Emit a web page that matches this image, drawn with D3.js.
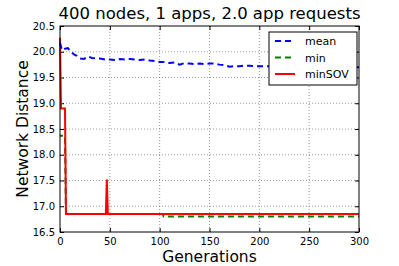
<!DOCTYPE html>
<html>
<head>
<meta charset="utf-8">
<script src="https://cdn.jsdelivr.net/npm/d3@7"></script>
<style>
  body { margin: 0; background: #fff; }
  text { font-family: "DejaVu Sans", sans-serif; }
</style>
</head>
<body>
<script>
// data
const meanGen = [0, 2, 5, 8, 11, 14, 17, 20, 24, 28, 32, 36, 40, 45, 50, 55, 60, 65, 70, 75, 80, 85, 90, 95, 100, 105, 110, 115, 120, 125, 130, 135, 140, 145, 150, 155, 160, 165, 170, 175, 180, 185, 190, 195, 200, 210, 220, 230, 240, 250, 260, 270, 280, 290, 300];
const meanVal = [20.17, 20.03, 20.06, 20.07, 20.0, 19.95, 19.92, 19.87, 19.86, 19.91, 19.88, 19.87, 19.87, 19.85, 19.85, 19.84, 19.86, 19.85, 19.86, 19.85, 19.84, 19.85, 19.83, 19.82, 19.80, 19.80, 19.78, 19.79, 19.75, 19.78, 19.77, 19.76, 19.77, 19.76, 19.77, 19.77, 19.75, 19.74, 19.71, 19.72, 19.72, 19.73, 19.73, 19.72, 19.72, 19.72, 19.71, 19.71, 19.71, 19.70, 19.70, 19.70, 19.71, 19.70, 19.70];
const minGen = [0, 5, 6, 103, 104, 300];
const minVal = [18.37, 18.37, 16.85, 16.85, 16.80, 16.80];
const sovGen = [0, 1, 5, 6, 46, 47, 48, 300];
const sovVal = [20.27, 18.9, 18.9, 16.85, 16.85, 17.52, 16.85, 16.85];
const xTicks = [0, 50, 100, 150, 200, 250, 300];
const yTicks = [16.5, 17.0, 17.5, 18.0, 18.5, 19.0, 19.5, 20.0, 20.5];
const seriesNames = ["mean", "min", "minSOV"];

const W = 399, H = 266;
const m = { left: 60, right: 40, top: 26, bottom: 34 };

const svg = d3.select("body").append("svg")
    .attr("width", W)
    .attr("height", H);

const x = d3.scaleLinear().domain([0, 300]).range([m.left, W - m.right]);
const y = d3.scaleLinear().domain([16.5, 20.5]).range([H - m.bottom, m.top]);

// grid
svg.append("g").selectAll("line").data(xTicks.slice(1, -1)).join("line")
    .attr("x1", d => x(d)).attr("x2", d => x(d))
    .attr("y1", m.top).attr("y2", H - m.bottom)
    .attr("stroke", "#555").attr("stroke-width", 0.6).attr("stroke-dasharray", "1,2");
svg.append("g").selectAll("line").data(yTicks.slice(1, -1)).join("line")
    .attr("x1", m.left).attr("x2", W - m.right)
    .attr("y1", d => y(d)).attr("y2", d => y(d))
    .attr("stroke", "#555").attr("stroke-width", 0.6).attr("stroke-dasharray", "1,2");

// axes
svg.append("g")
    .attr("transform", `translate(0,${H - m.bottom})`)
    .call(d3.axisBottom(x).tickValues(xTicks).tickSize(-4).tickPadding(6).tickFormat(d3.format("d")));
svg.append("g")
    .attr("transform", `translate(${m.left},0)`)
    .call(d3.axisLeft(y).tickValues(yTicks).tickSize(-4).tickPadding(5).tickFormat(d3.format(".1f")));
svg.append("g")
    .attr("transform", `translate(0,${m.top})`)
    .call(d3.axisTop(x).tickValues(xTicks).tickSize(-4).tickFormat(""));
svg.append("g")
    .attr("transform", `translate(${W - m.right},0)`)
    .call(d3.axisRight(y).tickValues(yTicks).tickSize(-4).tickFormat(""));
svg.selectAll(".domain").remove();
svg.selectAll(".tick text").attr("font-size", 10).attr("fill", "#000");
svg.selectAll(".tick line").attr("stroke", "#000");

const line = d3.line().x(d => x(d[0])).y(d => y(d[1]));

svg.append("path")
    .datum(d3.zip(minGen, minVal))
    .attr("d", line)
    .attr("fill", "none").attr("stroke", "#008000").attr("stroke-width", 2)
    .attr("stroke-dasharray", "6,4").attr("stroke-dashoffset", 3);
svg.append("path")
    .datum(d3.zip(sovGen, sovVal))
    .attr("d", line)
    .attr("fill", "none").attr("stroke", "#ff0000").attr("stroke-width", 2);
svg.append("path")
    .datum(d3.zip(meanGen, meanVal))
    .attr("d", line)
    .attr("fill", "none").attr("stroke", "#0000ff").attr("stroke-width", 2)
    .attr("stroke-dasharray", "6,4");

// frame
svg.append("rect")
    .attr("x", m.left).attr("y", m.top)
    .attr("width", W - m.left - m.right).attr("height", H - m.top - m.bottom)
    .attr("fill", "none").attr("stroke", "#000").attr("stroke-width", 1);

// legend
const lg = svg.append("g").attr("transform", "translate(269,32)");
lg.append("rect").attr("width", 88).attr("height", 53)
    .attr("fill", "#fff").attr("stroke", "#000").attr("stroke-width", 1);
const styles = [
    { c: "#0000ff", dash: "6,4" },
    { c: "#008000", dash: "6,4" },
    { c: "#ff0000", dash: null }
];
seriesNames.forEach((name, i) => {
    const yy = 9 + i * 16.5;
    lg.append("line").attr("x1", 6).attr("x2", 26).attr("y1", yy).attr("y2", yy)
        .attr("stroke", styles[i].c).attr("stroke-width", 2)
        .attr("stroke-dasharray", styles[i].dash);
    lg.append("text").attr("x", 36).attr("y", yy + 4)
        .attr("font-size", 11).text(name);
});

// titles
svg.append("text").attr("x", x(150)).attr("y", 19)
    .attr("text-anchor", "middle").attr("font-size", 16.5)
    .text("400 nodes, 1 apps, 2.0 app requests");
svg.append("text").attr("x", x(150)).attr("y", 262)
    .attr("text-anchor", "middle").attr("font-size", 15.5)
    .text("Generations");
svg.append("text")
    .attr("transform", `translate(28,${y(18.5)}) rotate(-90)`)
    .attr("text-anchor", "middle").attr("font-size", 15.5)
    .text("Network Distance");
</script>
</body>
</html>
